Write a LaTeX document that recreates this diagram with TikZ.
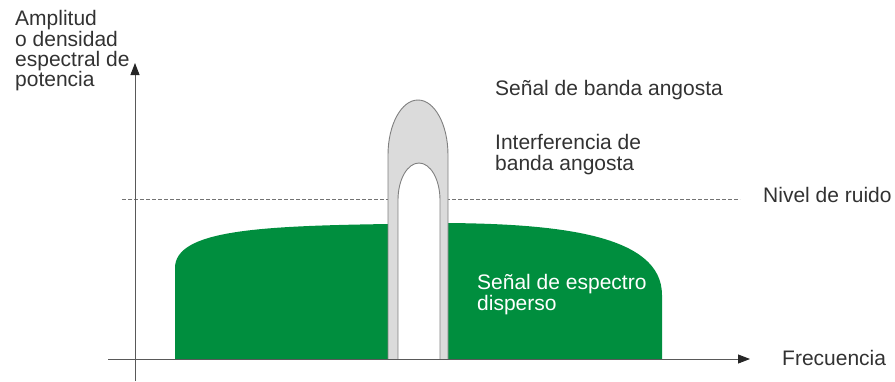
\documentclass[tikz,border=0pt]{standalone}
\usepackage{fontspec}
\setmainfont{Liberation Sans}
\usetikzlibrary{arrows.meta}
\definecolor{spreadgreen}{RGB}{0,142,62}
\definecolor{textgray}{RGB}{50,50,50}
\tikzset{x=1pt, y=-1pt,
axis/.style={ % Sets the properties for both axes
draw=black!65,
line width=0.9pt,
-{Triangle[length=12pt,width=9pt,color=black!85]}},
noise/.style={ % Dashed noise level
draw=black!55,
line width=0.9pt,
dash pattern=on 4pt off 2pt},
spread/.style={fill=spreadgreen, draw=none},
narrowband/.style={draw=black!50, line width=0.9pt},
label/.style={ % Sets the properties for every text
text=textgray,
inner sep=0pt,
align=left,
font=\fontsize{21}{20.3}\selectfont}}
\begin{document}
\begin{tikzpicture}
\useasboundingbox (0,0) rectangle (895,381);
% noise level, drawn first so the peak covers it
\coordinate (n1) at (122,199);
\coordinate (n2) at (740,199);
\draw[noise] (n1) -- (n2);
% spread spectrum signal
\path[spread] (175,359) -- (175,268) .. controls (175,230) and (260,226) .. (388,224)
  -- (448,223) .. controls (560,224) and (662,235) .. (662,295) -- (662,359) -- cycle;
% narrowband signal and interference
\path[narrowband, fill=black!14] (388,359) -- (388,155) .. controls (388,124.6) and (401.4,100) .. (418,100)
  .. controls (434.6,100) and (448,124.6) .. (448,155) -- (448,359);
\path[narrowband, fill=white] (398,359) -- (398,200) .. controls (398,179.6) and (407.4,163) .. (419,163)
  .. controls (430.6,163) and (440,179.6) .. (440,200) -- (440,359);
% axes
\coordinate (x0) at (108,359);
\coordinate (x1) at (750,359);
\coordinate (y0) at (135,381);
\coordinate (y1) at (135,63);
\draw[axis] (x0) -- (x1);
\draw[axis] (y0) -- (y1);
% labels
\node[label, anchor=north west] (amp) at (15,10.5) {Amplitud\\o densidad\\espectral de\\potencia};
\node[label, anchor=base west] (nbs) at (495,95) {Señal de banda angosta};
\node[label, anchor=north west] (nbi) at (495,134.5) {Interferencia de\\banda angosta};
\node[label, anchor=base west] (lvl) at (763,202) {Nivel de ruido};
\node[label, anchor=north west, text=white] (sss) at (477,274.5) {Señal de espectro\\disperso};
\node[label, anchor=base west] (frq) at (782,365) {Frecuencia};
\end{tikzpicture}
\end{document}
